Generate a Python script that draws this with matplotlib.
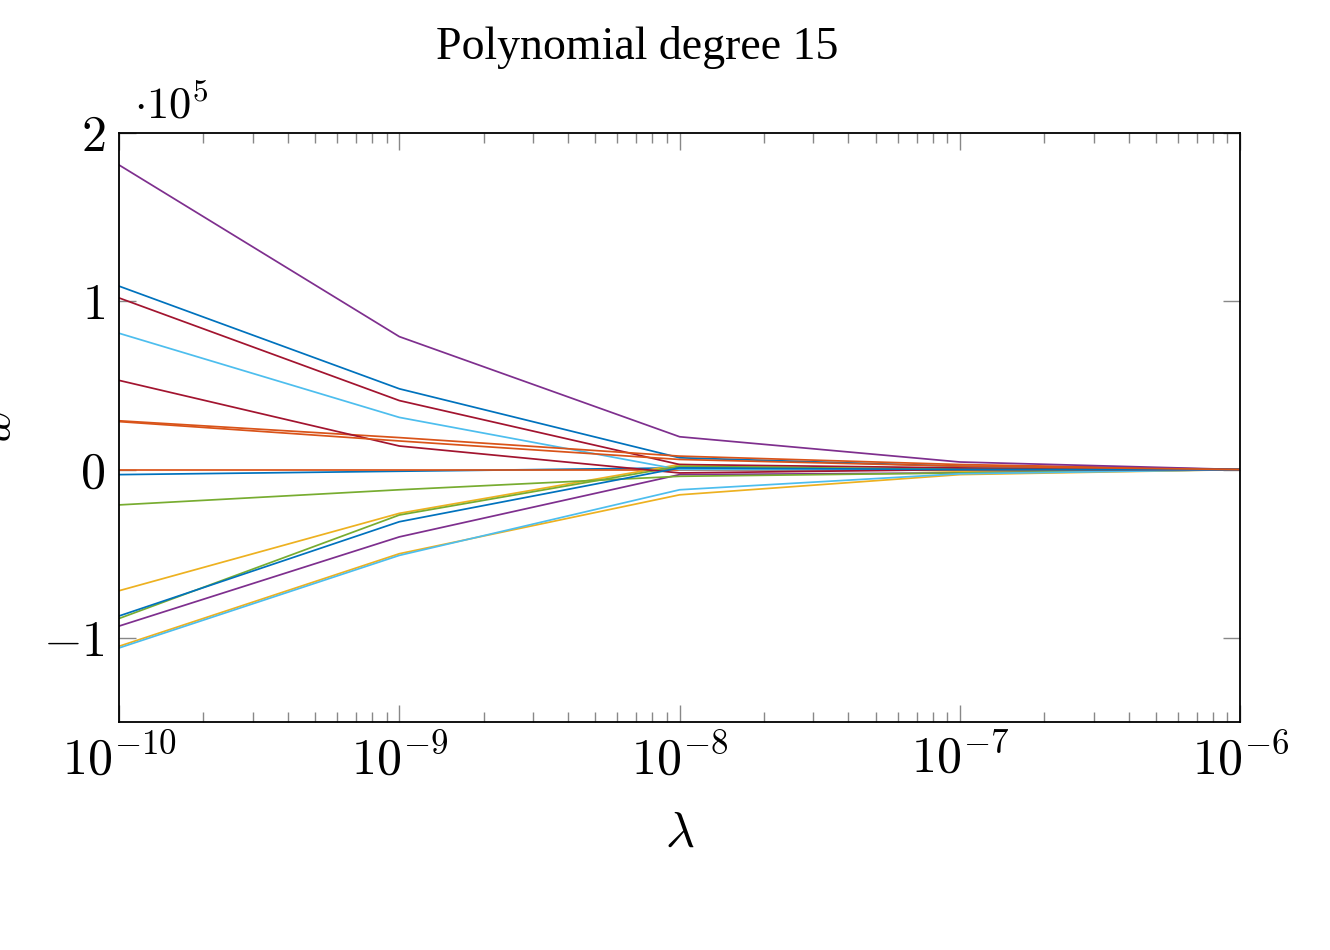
import numpy as np
import matplotlib
matplotlib.use('Agg')
import matplotlib.pyplot as plt
from matplotlib.ticker import FixedLocator, FuncFormatter, LogLocator, NullFormatter

plt.rcParams['mathtext.fontset'] = 'cm'
plt.rcParams['font.family'] = ['Liberation Serif', 'DejaVu Serif']

# regularisation values (x axis)
lambdas = [1e-10, 1e-9, 1e-8, 1e-7, 1e-6]

# coefficients w0..w15, in units of 1e5
w00 = [-0.03, -0.01, 0.01, 0.005, 0.0]
w01 = [0.00, 0.00, 0.00, 0.00, 0.0]
w02 = [-0.72, -0.26, 0.03, -0.01, 0.0]
w03 = [-0.93, -0.40, -0.03, -0.02, 0.0]
w04 = [-0.21, -0.12, -0.04, -0.02, 0.0]
w05 = [0.81, 0.31, 0.00, 0.00, 0.0]
w06 = [1.02, 0.41, 0.03, 0.01, 0.0]
w07 = [1.09, 0.48, 0.07, 0.02, 0.0]
w08 = [0.29, 0.19, 0.08, 0.03, 0.0]
w09 = [-1.05, -0.50, -0.15, -0.03, 0.0]
w10 = [1.81, 0.79, 0.195, 0.045, 0.0]
w11 = [-0.885, -0.27, 0.02, 0.00, 0.0]
w12 = [-1.06, -0.51, -0.12, -0.025, 0.0]
w13 = [0.53, 0.14, -0.02, 0.00, 0.0]
w14 = [-0.87, -0.31, 0.01, 0.00, 0.0]
w15 = [0.285, 0.17, 0.06, 0.02, 0.0]
weights = [w00, w01, w02, w03, w04, w05, w06, w07,
           w08, w09, w10, w11, w12, w13, w14, w15]

# matlab-style colour cycle
colores = ['#0072BD', '#D95319', '#EDB120', '#7E2F8E',
           '#77AC30', '#4DBEEE', '#A2142F']

fig = plt.figure(figsize=(13.3, 9.5), dpi=100)
ax = fig.add_axes([0.0895, 0.24, 0.843, 0.62])

for i, w in enumerate(weights):
    ax.plot(lambdas, np.array(w) * 1e5, color=colores[i % 7], lw=1.25)

ax.set_xscale('log')
ax.set_xlim(1e-10, 1e-6)
ax.set_ylim(-1.5e5, 2e5)

ax.yaxis.set_major_locator(FixedLocator([-1e5, 0, 1e5, 2e5]))
ax.yaxis.set_major_formatter(FuncFormatter(lambda v, p: '$%g$' % (v / 1e5)))
ax.xaxis.set_major_locator(FixedLocator(lambdas))
ax.xaxis.set_major_formatter(FuncFormatter(lambda v, p: '$10^{%d}$' % round(np.log10(v))))
ax.xaxis.set_minor_locator(LogLocator(base=10, subs=np.arange(2, 10), numticks=20))
ax.xaxis.set_minor_formatter(NullFormatter())

ax.tick_params(which='both', direction='in', top=True, right=True,
               colors='#888888', labelcolor='black', labelsize=36, width=1.0)
ax.tick_params(which='major', length=12, pad=10)
ax.tick_params(which='minor', length=7)
ax.tick_params(axis='y', which='minor', left=False, right=False)

for s in ax.spines.values():
    s.set_linewidth(1.3)
    s.set_color('black')

# titulo un poco a la izquierda del centro, como en el original
ax.set_title('Polynomial degree 15', fontsize=33, pad=53, x=0.462)
ax.set_xlabel(r'$\lambda$', fontsize=36, labelpad=18)
ax.set_ylabel('$w$', fontsize=36)
ax.yaxis.set_label_coords(-0.087, 0.5)

fig.text(0.101, 0.866, r'$\cdot 10^5$', fontsize=32, ha='left', va='bottom')

fig.savefig('out.png', dpi=100)
